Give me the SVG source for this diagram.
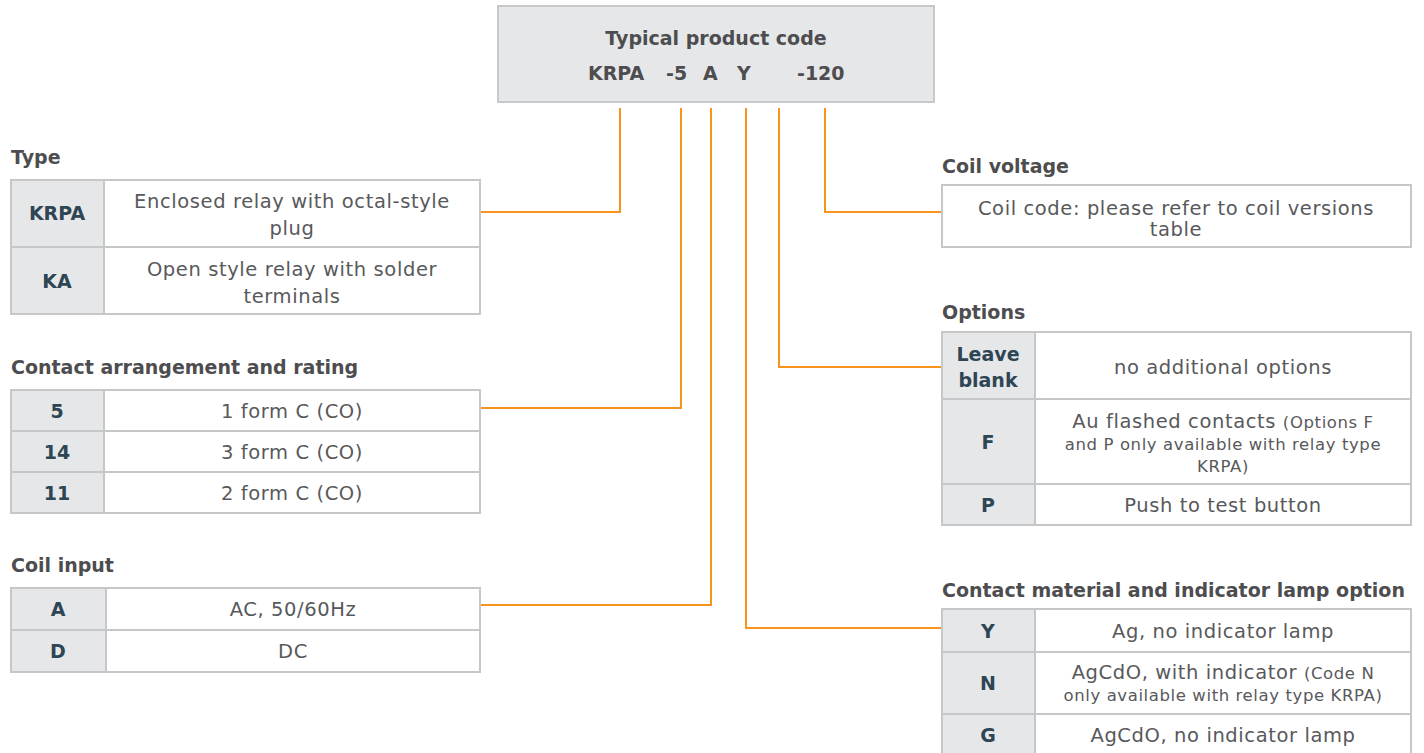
<svg xmlns="http://www.w3.org/2000/svg" width="1424" height="753" viewBox="0 0 1424 753">
<style>
.bg{fill:#ffffff}
.box{fill:#ffffff;stroke:#c6c7c8;stroke-width:2}
.key{fill:#e6e7e9;stroke:#c6c7c8;stroke-width:2}
.hd{font-family:"DejaVu Sans","Open Sans",sans-serif;font-weight:700;font-size:19px;fill:#4d4d4f}
.code{font-family:"DejaVu Sans","Open Sans",sans-serif;font-weight:700;font-size:19px;fill:#2e4653;text-anchor:middle}
.ds{font-family:"DejaVu Sans","Open Sans",sans-serif;font-size:19.5px;letter-spacing:0.6px;fill:#58595b;text-anchor:middle}
.sm{font-size:16.5px}
.conn{fill:none;stroke:#f7941d;stroke-width:2}
</style>
<rect class="bg" x="0" y="0" width="1424" height="753"/>
<g id="product-code">
<rect x="498" y="6" width="436" height="96" fill="#e6e7e9" stroke="#c8c9ca" stroke-width="2"/>
<text class="hd" x="716" y="45" text-anchor="middle">Typical product code</text>
<text class="hd" x="588" y="80">KRPA</text>
<text class="hd" x="666" y="80">-5</text>
<text class="hd" x="703" y="80">A</text>
<text class="hd" x="737" y="80">Y</text>
<text class="hd" x="797" y="80">-120</text>
</g>
<g id="connectors">
<polyline class="conn" points="620,108 620,212 480,212"/>
<polyline class="conn" points="681,108 681,408 480,408"/>
<polyline class="conn" points="711,108 711,605 480,605"/>
<polyline class="conn" points="746,108 746,628 942,628"/>
<polyline class="conn" points="779,108 779,367 942,367"/>
<polyline class="conn" points="825,108 825,212 942,212"/>
</g>
<g id="type">
<text class="hd" x="11" y="164">Type</text>
<rect class="key" x="11" y="180" width="93" height="67"/>
<rect class="box" x="104" y="180" width="376" height="67"/>
<rect class="key" x="11" y="247" width="93" height="67"/>
<rect class="box" x="104" y="247" width="376" height="67"/>
<text class="code" x="57" y="220">KRPA</text>
<text class="ds" x="292" y="208">Enclosed relay with octal-style</text>
<text class="ds" x="292" y="235">plug</text>
<text class="code" x="57" y="288">KA</text>
<text class="ds" x="292" y="276">Open style relay with solder</text>
<text class="ds" x="292" y="303">terminals</text>
</g>
<g id="contact-arrangement">
<text class="hd" x="11" y="374">Contact arrangement and rating</text>
<rect class="key" x="11" y="390" width="93" height="41"/>
<rect class="box" x="104" y="390" width="376" height="41"/>
<rect class="key" x="11" y="431" width="93" height="41"/>
<rect class="box" x="104" y="431" width="376" height="41"/>
<rect class="key" x="11" y="472" width="93" height="41"/>
<rect class="box" x="104" y="472" width="376" height="41"/>
<text class="code" x="57" y="418">5</text>
<text class="ds" x="292" y="418">1 form C (CO)</text>
<text class="code" x="57" y="459">14</text>
<text class="ds" x="292" y="459">3 form C (CO)</text>
<text class="code" x="57" y="500">11</text>
<text class="ds" x="292" y="500">2 form C (CO)</text>
</g>
<g id="coil-input">
<text class="hd" x="11" y="572">Coil input</text>
<rect class="key" x="11" y="588" width="95" height="42"/>
<rect class="box" x="106" y="588" width="374" height="42"/>
<rect class="key" x="11" y="630" width="95" height="42"/>
<rect class="box" x="106" y="630" width="374" height="42"/>
<text class="code" x="58" y="616">A</text>
<text class="ds" x="293" y="616">AC, 50/60Hz</text>
<text class="code" x="58" y="658">D</text>
<text class="ds" x="293" y="658">DC</text>
</g>
<g id="coil-voltage">
<text class="hd" x="942" y="173">Coil voltage</text>
<rect class="box" x="942" y="185" width="469" height="62"/>
<text class="ds" x="1176" y="215">Coil code: please refer to coil versions</text>
<text class="ds" x="1176" y="236">table</text>
</g>
<g id="options">
<text class="hd" x="942" y="319">Options</text>
<rect class="key" x="942" y="332" width="93" height="67"/>
<rect class="box" x="1035" y="332" width="376" height="67"/>
<rect class="key" x="942" y="399" width="93" height="85"/>
<rect class="box" x="1035" y="399" width="376" height="85"/>
<rect class="key" x="942" y="484" width="93" height="41"/>
<rect class="box" x="1035" y="484" width="376" height="41"/>
<text class="code" x="988" y="361">Leave</text>
<text class="code" x="988" y="387">blank</text>
<text class="ds" x="1223" y="374">no additional options</text>
<text class="code" x="988" y="449">F</text>
<text class="ds" x="1223" y="428">Au flashed contacts <tspan class="sm">(Options F</tspan></text>
<text class="ds sm" x="1223" y="450">and P only available with relay type</text>
<text class="ds sm" x="1223" y="472">KRPA)</text>
<text class="code" x="988" y="512">P</text>
<text class="ds" x="1223" y="512">Push to test button</text>
</g>
<g id="contact-material">
<text class="hd" x="942" y="597">Contact material and indicator lamp option</text>
<rect class="key" x="942" y="609" width="93" height="43"/>
<rect class="box" x="1035" y="609" width="376" height="43"/>
<rect class="key" x="942" y="652" width="93" height="62"/>
<rect class="box" x="1035" y="652" width="376" height="62"/>
<rect class="key" x="942" y="714" width="93" height="45"/>
<rect class="box" x="1035" y="714" width="376" height="45"/>
<text class="code" x="988" y="638">Y</text>
<text class="ds" x="1223" y="638">Ag, no indicator lamp</text>
<text class="code" x="988" y="690">N</text>
<text class="ds" x="1223" y="679">AgCdO, with indicator <tspan class="sm">(Code N</tspan></text>
<text class="ds sm" x="1223" y="701">only available with relay type KRPA)</text>
<text class="code" x="988" y="742">G</text>
<text class="ds" x="1223" y="742">AgCdO, no indicator lamp</text>
</g>
</svg>
